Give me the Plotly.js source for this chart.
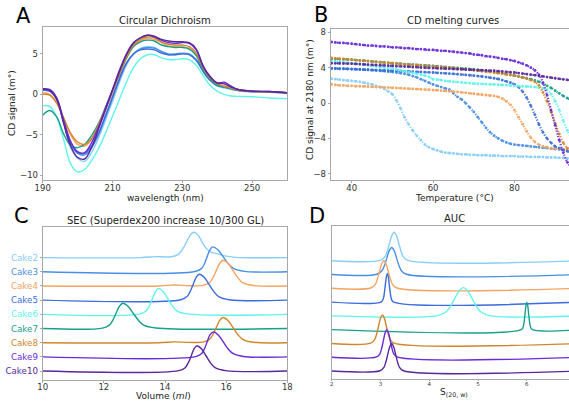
<!DOCTYPE html>
<html><head><meta charset="utf-8">
<script src="https://cdn.plot.ly/plotly-3.0.1.min.js"></script>
<style>html,body{margin:0;padding:0;overflow:hidden;background:#fff}#chart{width:600px;height:401px}</style>
</head><body><div id="chart"></div>
<script>
// ---------- categories ----------
const cakes = ['Cake2','Cake3','Cake4','Cake5','Cake6','Cake7','Cake8','Cake9','Cake10'];
const cakeColors = ['#87cefa','#4a8fe4','#f4a460','#3b6ddc','#5ff3ee','#18a08c','#d2862c','#6a2ad8','#5a2898'];

// ---------- A: Circular dichroism spectra ----------
const cdWavelength = [190,192,194,196,198,200,202,204,206,208,210,212,214,216,218,220,222,224,226,228,230,232,234,236,238,240,242,244,246,250,255,260];
const cdCake2  = [0.6,0.5,-0.5,-3.6,-6.6,-7.9,-8.3,-7.2,-5.4,-3.2,-0.9,1.5,3.6,5.0,5.7,5.9,5.8,5.3,4.9,4.9,5.0,4.9,4.2,2.8,1.7,1.0,0.8,0.6,0.45,0.3,0.25,0.1];
const cdCake3  = [0.5,0.4,-0.6,-3.5,-6.2,-7.3,-7.5,-6.6,-5.0,-2.8,-0.5,1.8,3.8,5.0,5.6,5.8,5.7,5.3,5.0,5.0,5.1,5.0,4.3,2.9,1.8,1.1,0.9,0.7,0.5,0.35,0.3,0.15];
const cdCake4  = [0.2,0.0,-1.0,-3.0,-5.0,-6.2,-6.4,-5.6,-3.8,-1.9,0.2,2.4,4.4,5.9,6.6,6.9,6.8,6.4,6.0,5.9,5.9,5.7,5.0,3.1,1.9,1.2,1.0,0.8,0.5,0.35,0.3,0.15];
const cdCake5  = [0.5,0.4,-0.6,-3.4,-6.0,-7.2,-7.3,-6.4,-4.8,-2.6,-0.3,2.0,3.9,5.0,5.5,5.6,5.5,5.1,4.9,4.9,5.0,4.9,4.2,2.8,1.7,1.1,0.9,0.7,0.5,0.35,0.3,0.15];
const cdCake6  = [-1.4,-1.5,-2.8,-5.6,-8.6,-9.6,-9.3,-8.2,-6.7,-4.8,-2.7,-0.6,1.5,3.3,4.4,4.9,4.9,4.5,4.3,4.3,4.4,4.3,3.6,2.3,1.1,0.4,0.0,-0.2,-0.25,-0.3,-0.45,-0.55];
const cdCake7  = [-2.6,-2.0,-2.8,-4.9,-6.3,-6.6,-6.2,-5.1,-3.6,-1.6,0.5,2.6,4.5,5.9,6.5,6.7,6.6,6.1,5.9,5.8,5.8,5.6,4.8,3.0,1.8,1.1,0.9,0.7,0.5,0.35,0.3,0.2];
const cdCake8  = [0.0,-0.1,-1.1,-2.9,-4.8,-5.9,-6.2,-5.5,-3.7,-1.7,0.4,2.6,4.6,6.1,6.8,7.1,7.0,6.5,6.2,6.1,6.1,5.9,5.1,3.2,2.0,1.3,1.0,0.8,0.5,0.35,0.3,0.15];
const cdCake9  = [0.7,0.6,-0.4,-3.2,-5.8,-7.1,-7.2,-6.0,-4.0,-1.7,0.6,3.0,5.0,6.4,7.0,7.3,7.1,6.7,6.4,6.3,6.4,6.3,5.5,3.4,2.1,1.4,1.5,1.0,0.6,0.4,0.35,0.2];
const cdCake10 = [0.6,0.5,-0.6,-3.6,-6.4,-7.8,-8.0,-6.6,-4.3,-1.9,0.5,2.8,4.9,6.3,7.0,7.3,7.2,6.8,6.6,6.5,6.5,6.4,5.6,3.5,2.2,1.4,1.3,0.9,0.6,0.4,0.35,0.2];
const cdData = [cdCake2,cdCake3,cdCake4,cdCake5,cdCake6,cdCake7,cdCake8,cdCake9,cdCake10];

// ---------- B: CD melting curves ----------
const meltTemp = [35,36,37,38,39,40,41,42,43,44,45,46,47,48,49,50,51,52,53,54,55,56,57,58,59,60,61,62,63,64,65,66,67,68,69,70,71,72,73,74,75,76,77,78,79,80,81,82,83,84,85,86,87,88,89,90,91,92,93,94];
const meltCake2 = [2.75,2.7,2.65,2.6,2.55, 2.5,2.45,2.4,2.3,2.2, 2.1,1.95,1.8,1.6,1.3, 1.0,0.3,-0.6,-1.6,-2.4, -3.1,-3.7,-4.2,-4.7,-5.0, -5.2,-5.35,-5.5,-5.6,-5.65, -5.7,-5.75,-5.8,-5.8,-5.85, -5.85,-5.9,-5.9,-5.9,-5.95, -5.95,-5.95,-6.0,-6.0,-6.0, -6.0,-6.05,-6.05,-6.05,-6.1, -6.1,-6.1,-6.1,-6.15,-6.15, -6.15,-6.2,-6.2,-6.25,-6.25];
const meltCake3 = [3.95,3.93,3.9,3.88,3.86, 3.85,3.82,3.8,3.77,3.74, 3.7,3.67,3.63,3.6,3.55, 3.5,3.45,3.38,3.3,3.2, 3.05,2.9,2.7,2.5,2.3, 2.1,1.95,1.8,1.65,1.5, 1.1,0.7,0.4,0.0,-0.5, -1.0,-1.6,-2.2,-2.8,-3.3, -3.7,-4.0,-4.25,-4.45,-4.6, -4.7,-4.75,-4.8,-4.85,-4.9, -4.95,-5.0,-5.05,-5.1,-5.15, -5.2,-5.25,-5.3,-5.4,-5.5];
const meltCake4 = [2.1,2.05,2.0,2.0,1.95, 1.95,1.9,1.9,1.88,1.85, 1.83,1.8,1.8,1.78,1.75, 1.72,1.7,1.68,1.65,1.62, 1.6,1.58,1.55,1.52,1.5, 1.47,1.45,1.4,1.37,1.33, 1.3,1.25,1.2,1.15,1.1, 1.05,1.0,0.95,0.9,0.85, 0.8,0.7,0.5,0.2,-0.2, -0.8,-1.6,-2.4,-3.2,-3.9, -4.4,-4.7,-4.9,-5.0,-5.1, -5.15,-5.2,-5.25,-5.3,-5.35];
const meltCake5 = [3.9,3.88,3.87,3.86,3.85, 3.84,3.82,3.8,3.78,3.77, 3.75,3.73,3.71,3.69,3.67, 3.65,3.63,3.61,3.59,3.57, 3.55,3.53,3.51,3.49,3.47, 3.45,3.42,3.39,3.36,3.33, 3.3,3.26,3.22,3.18,3.14, 3.1,3.05,3.0,2.94,2.87, 2.8,2.72,2.6,2.45,2.3, 2.1,1.8,1.3,0.6,-0.3, -1.3,-2.4,-3.3,-4.0,-4.5, -4.9,-5.1,-5.3,-5.45,-5.6];
const meltCake6 = [4.7,4.67,4.63,4.6,4.55, 4.5,4.45,4.4,4.33,4.27, 4.2,4.13,4.06,4.0,3.95, 3.9,3.8,3.7,3.6,3.5, 3.4,3.3,3.2,3.1,2.95, 2.7,2.65,2.58,2.5,2.45, 2.4,2.37,2.33,2.28,2.25, 2.2,2.18,2.16,2.14,2.12, 2.1,2.07,2.04,2.01,1.98, 1.95,1.92,1.9,1.87,1.84, 1.8,1.75,1.65,1.5,1.0, 0.2,-0.8,-2.0,-3.1,-4.0];
const meltCake7 = [5.0,4.98,4.96,4.94,4.92, 4.9,4.86,4.82,4.78,4.74, 4.7,4.66,4.62,4.58,4.54, 4.5,4.47,4.44,4.41,4.38, 4.35,4.32,4.29,4.26,4.23, 4.2,4.16,4.12,4.08,4.04, 4.0,3.96,3.92,3.88,3.84, 3.8,3.75,3.7,3.65,3.58, 3.5,3.43,3.36,3.28,3.2, 3.1,3.0,2.9,2.8,2.7, 2.55,2.4,2.2,1.95,1.7, 1.4,1.1,0.8,0.55,0.3];
const meltCake8 = [5.1,5.06,5.02,4.98,4.94, 4.9,4.86,4.82,4.78,4.74, 4.7,4.66,4.62,4.58,4.54, 4.5,4.46,4.42,4.38,4.34, 4.3,4.27,4.24,4.21,4.18, 4.15,4.11,4.07,4.03,3.99, 3.95,3.9,3.85,3.8,3.75, 3.7,3.65,3.6,3.55,3.5, 3.45,3.38,3.31,3.24,3.17, 3.1,3.0,2.9,2.75,2.6, 2.4,2.0,1.2,0.2,-1.0, -2.3,-3.5,-4.5,-5.1,-5.5];
const meltCake9 = [6.9,6.85,6.8,6.8,6.75, 6.7,6.65,6.6,6.55,6.5, 6.5,6.45,6.4,6.4,6.35, 6.3,6.3,6.25,6.2,6.2, 6.15,6.1,6.1,6.05,6.0, 6.0,5.95,5.9,5.9,5.85, 5.8,5.75,5.7,5.65,5.6, 5.5,5.45,5.4,5.3,5.25, 5.2,5.1,5.0,4.95,4.85, 4.75,4.6,4.45,4.25,4.0, 3.7,3.2,2.3,0.9,-0.8, -2.5,-4.2,-5.6,-6.7,-7.3];
const meltCake10 = [4.5,4.49,4.48,4.47,4.46, 4.45,4.42,4.4,4.37,4.35, 4.32,4.3,4.27,4.25,4.22, 4.2,4.17,4.15,4.12,4.1, 4.07,4.05,4.02,4.0,3.97, 3.95,3.93,3.91,3.89,3.87, 3.85,3.83,3.81,3.79,3.77, 3.75,3.73,3.71,3.69,3.67, 3.65,3.61,3.57,3.53,3.49, 3.45,3.39,3.33,3.27,3.21, 3.15,3.08,3.01,2.94,2.87, 2.8,2.74,2.68,2.62,2.56];
const meltData = [meltCake2,meltCake3,meltCake4,meltCake5,meltCake6,meltCake7,meltCake8,meltCake9,meltCake10];

// ---------- C: SEC traces (normalised signal) ----------
const secX_Cake2  = [10,13.2,13.7,14.2,14.45,14.62,14.75,14.85,14.95,15.07,15.2,15.35,15.5,15.7,15.95,16.3,18];
const secY_Cake2  = [0,0,0.07,0.06,0.25,0.75,1.3,1.67,1.79,1.62,1.15,0.65,0.38,0.28,0.12,0.02,0];
const secX_Cake3  = [10,14.98,15.2,15.29,15.38,15.47,15.56,15.73,15.9,16.07,16.24,16.6,18];
const secY_Cake3  = [0,0.02,0.24,0.57,1.07,1.55,1.76,1.55,1.07,0.57,0.24,0.03,0];
const secX_Cake4  = [10,13.8,14.3,14.8,15.24,15.46,15.57,15.68,15.79,15.9,16.06,16.22,16.38,16.54,16.9,18];
const secY_Cake4  = [0,0,0.07,0.02,0.04,0.24,0.59,1.1,1.6,1.81,1.6,1.1,0.59,0.24,0.03,0];
const secX_Cake5  = [10,14.52,14.72,14.82,14.92,15.02,15.12,15.28,15.44,15.6,15.76,16.1,18];
const secY_Cake5  = [0,0.03,0.25,0.6,1.11,1.61,1.83,1.61,1.11,0.6,0.25,0.03,0];
const secX_Cake6  = [10,13.19,13.39,13.49,13.59,13.69,13.79,13.94,14.09,14.24,14.39,14.72,18];
const secY_Cake6  = [0,0.03,0.25,0.6,1.11,1.61,1.83,1.61,1.11,0.6,0.25,0.03,0];
const secX_Cake7  = [10,11.96,12.18,12.29,12.4,12.51,12.62,12.79,12.96,13.13,13.3,13.7,18];
const secY_Cake7  = [0,0.03,0.24,0.58,1.08,1.57,1.78,1.57,1.08,0.58,0.24,0.04,0];
const secX_Cake8  = [10,13.8,14.3,14.8,15.24,15.46,15.57,15.68,15.79,15.9,16.06,16.22,16.38,16.54,16.9,18];
const secY_Cake8  = [0,0,0.06,0.02,0.04,0.24,0.58,1.08,1.57,1.78,1.57,1.08,0.58,0.24,0.03,0];
const secX_Cake9  = [10,15.0,15.2,15.29,15.38,15.47,15.58,15.74,15.9,16.06,16.22,16.56,18];
const secY_Cake9  = [0,0.02,0.24,0.57,1.07,1.55,1.76,1.55,1.07,0.57,0.24,0.03,0];
const secX_Cake10 = [10,14.45,14.66,14.76,14.86,14.95,15.04,15.19,15.34,15.49,15.64,15.98,18];
const secY_Cake10 = [0,0.03,0.24,0.58,1.08,1.57,1.78,1.57,1.08,0.58,0.24,0.03,0];
const secX = [secX_Cake2,secX_Cake3,secX_Cake4,secX_Cake5,secX_Cake6,secX_Cake7,secX_Cake8,secX_Cake9,secX_Cake10];
const secY = [secY_Cake2,secY_Cake3,secY_Cake4,secY_Cake5,secY_Cake6,secY_Cake7,secY_Cake8,secY_Cake9,secY_Cake10];

// ---------- D: AUC distributions (normalised) ----------
const aucX_Cake2  = [2,2.995,3.09,3.137,3.185,3.232,3.28,3.328,3.375,3.423,3.47,3.565,7.1];
const aucY_Cake2  = [0,0.02,0.28,0.67,1.25,1.82,2.06,1.82,1.25,0.67,0.28,0.02,0];
const aucX_Cake3  = [2,2.93,3.03,3.08,3.13,3.18,3.23,3.28,3.33,3.38,3.43,3.53,7.1];
const aucY_Cake3  = [0,0.02,0.27,0.64,1.19,1.73,1.96,1.73,1.19,0.64,0.27,0.02,0];
const aucX_Cake4  = [2,2.8,2.89,2.935,2.98,3.025,3.07,3.115,3.16,3.205,3.25,3.34,7.1];
const aucY_Cake4  = [0,0.02,0.27,0.65,1.21,1.76,2.0,1.76,1.21,0.65,0.27,0.02,0];
const aucX_Cake5  = [2,3.02,3.06,3.08,3.1,3.12,3.14,3.16,3.18,3.2,3.22,3.26,7.1];
const aucY_Cake5  = [0,0.02,0.28,0.68,1.26,1.83,2.08,1.83,1.26,0.68,0.28,0.02,0];
const aucX_Cake6  = [2,4.16,4.34,4.43,4.52,4.61,4.7,4.79,4.88,4.97,5.06,5.24,7.1];
const aucY_Cake6  = [0,0.02,0.28,0.67,1.24,1.81,2.05,1.81,1.24,0.67,0.28,0.02,0];
const aucX_Cake7  = [2,5.895,5.93,5.948,5.965,5.983,6.0,6.018,6.035,6.053,6.07,6.105,7.1];
const aucY_Cake7  = [0,0.02,0.27,0.65,1.21,1.76,2.0,1.76,1.21,0.65,0.27,0.02,0];
const aucX_Cake8  = [2,2.8,2.88,2.92,2.96,3.0,3.04,3.08,3.12,3.16,3.2,3.28,7.1];
const aucY_Cake8  = [0,0.02,0.28,0.67,1.25,1.82,2.06,1.82,1.25,0.67,0.28,0.02,0];
const aucX_Cake9  = [2,2.92,2.99,3.025,3.06,3.095,3.13,3.165,3.2,3.235,3.27,3.34,7.1];
const aucY_Cake9  = [0,0.02,0.27,0.65,1.21,1.76,2.0,1.76,1.21,0.65,0.27,0.02,0];
const aucX_Cake10 = [2,2.99,3.07,3.11,3.15,3.19,3.23,3.27,3.31,3.35,3.39,3.47,7.1];
const aucY_Cake10 = [0,0.02,0.27,0.65,1.21,1.76,2.0,1.76,1.21,0.65,0.27,0.02,0];
const aucX = [aucX_Cake2,aucX_Cake3,aucX_Cake4,aucX_Cake5,aucX_Cake6,aucX_Cake7,aucX_Cake8,aucX_Cake9,aucX_Cake10];
const aucY = [aucY_Cake2,aucY_Cake3,aucY_Cake4,aucY_Cake5,aucY_Cake6,aucY_Cake7,aucY_Cake8,aucY_Cake9,aucY_Cake10];

// ---------- tick labels ----------
const cdXTicks = [190,210,230,250];
const cdYTicks = [-10,-5,0,5];
const meltXTicks = [40,60,80];
const meltYTicks = [-8,-4,0,4,8];
const secXTicks = [10,12,14,16,18];
const aucXTicks = [2,3,4,5,6];

// ---------- build ----------
const W = 600, H = 401;
const px = v => v / W, py = v => 1 - v / H;
const FONT = 'DejaVu Sans, sans-serif';
const n = cakes.length;
const traces = [];
cakes.forEach((c, i) => {
  traces.push({x: cdWavelength, y: cdData[i], xaxis:'x', yaxis:'y', mode:'lines', name:c,
    line:{color:cakeColors[i], width:1.4, shape:'spline'}, showlegend:false, hoverinfo:'skip'});
});
cakes.forEach((c, i) => {
  traces.push({x: meltTemp, y: meltData[i], xaxis:'x2', yaxis:'y2', mode:'lines+markers', name:c,
    line:{color:cakeColors[i], width:2.2, dash:'1.2px,1.6px', shape:'spline'},
    marker:{color:cakeColors[i], size:2.8}, opacity:0.95, showlegend:false, hoverinfo:'skip'});
});
cakes.forEach((c, i) => {
  const off = n - 1 - i;
  traces.push({x: secX[i], y: secY[i].map(v => v + off), xaxis:'x3', yaxis:'y3', mode:'lines', name:c,
    line:{color:cakeColors[i], width:1.4, shape:'spline'}, showlegend:false, hoverinfo:'skip'});
});
cakes.forEach((c, i) => {
  const off = n - 1 - i;
  traces.push({x: aucX[i], y: aucY[i].map(v => v + off), xaxis:'x4', yaxis:'y4', mode:'lines', name:c,
    line:{color:cakeColors[i], width:1.4, shape:'spline'}, showlegend:false, hoverinfo:'skip'});
});

const axBase = {showgrid:false, zeroline:false, showline:true, mirror:true, linecolor:'#a8a8a8', linewidth:1,
  ticks:'outside', ticklen:2, tickcolor:'#a8a8a8', tickfont:{family:FONT, size:8.5, color:'#333'}, fixedrange:true};
const xBase = Object.assign({}, axBase, {ticklabelstandoff:-2});

const secOffsets = cakes.map((c, i) => n - 1 - i);
const secTickText = cakes.map((c, i) => '<span style="color:' + cakeColors[i] + '">' + c + '</span>');

const layout = {
  width: W, height: H, margin:{l:0,r:0,t:0,b:0}, paper_bgcolor:'#fff', plot_bgcolor:'#fff',
  font:{family:FONT, color:'#222'}, showlegend:false,
  xaxis: Object.assign({}, xBase, {domain:[px(42.7), px(287)], range:[190,260], tickvals:cdXTicks, anchor:'y'}),
  yaxis: Object.assign({}, axBase, {domain:[py(180), py(27)], range:[-10.6,8.33], tickvals:cdYTicks, anchor:'x'}),
  xaxis2: Object.assign({}, xBase, {domain:[px(330.7), px(580)], range:[34.85,96.1], tickvals:meltXTicks, anchor:'y2'}),
  yaxis2: Object.assign({}, axBase, {domain:[py(180), py(29)], range:[-8.7,8.37], tickvals:meltYTicks, anchor:'x2'}),
  xaxis3: Object.assign({}, xBase, {domain:[px(42.7), px(287.3)], range:[10,18], tickvals:secXTicks, ticklabelstandoff:-3, anchor:'y3'}),
  yaxis3: Object.assign({}, axBase, {domain:[py(380), py(226.7)], range:[-0.63,10.18], tickvals:secOffsets, ticktext:secTickText,
    tickfont:{family:FONT, size:8.7, color:'#333'}, anchor:'x3'}),
  xaxis4: Object.assign({}, xBase, {domain:[px(331.7), px(580)], range:[2,7.09], tickvals:aucXTicks, ticklen:1,
    tickfont:{family:FONT, size:5.5, color:'#333'}, anchor:'y4'}),
  yaxis4: Object.assign({}, axBase, {domain:[py(379.3), py(225.7)], range:[-0.6,10.54], ticks:'', showticklabels:false, anchor:'x4'}),
  annotations: [
    {text:'A', x:px(23), y:py(16), size:21},
    {text:'B', x:px(321), y:py(15), size:21},
    {text:'C', x:px(21), y:py(216), size:21},
    {text:'D', x:px(317), y:py(216), size:21},
    {text:'Circular Dichroism', x:px(165), y:py(21), size:10},
    {text:'CD melting curves', x:px(453), y:py(21), size:10},
    {text:'SEC (Superdex200 increase 10/300 GL)', x:px(165), y:py(220), size:10},
    {text:'AUC', x:px(454), y:py(219), size:10},
    {text:'wavelength (nm)', x:px(165), y:py(198), size:9},
    {text:'CD signal (m°)', x:px(12), y:py(103), size:9, angle:-90},
    {text:'CD signal at 2180 nm (m°)', x:px(310), y:py(100), size:9, angle:-90},
    {text:'Temperature (°C)', x:px(454), y:py(198), size:9},
    {text:'Volume (<i>ml</i>)', x:px(163), y:py(396), size:9},
    {text:'S<sub>(20, w)</sub>', x:px(454), y:py(392), size:9}
  ].map(a => ({text:a.text, x:a.x, y:a.y, xref:'paper', yref:'paper', xanchor:'center', yanchor:'middle',
    showarrow:false, textangle:a.angle || 0, font:{family:FONT, size:a.size, color: a.size > 20 ? '#000' : '#222'}}))
};

Plotly.newPlot('chart', traces, layout, {staticPlot:true, displayModeBar:false});
</script></body></html>
